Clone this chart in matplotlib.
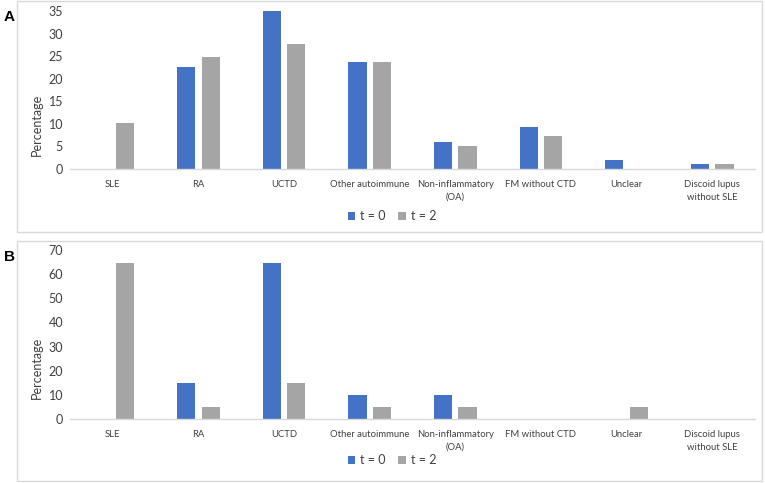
import matplotlib
matplotlib.use("Agg")
import matplotlib.pyplot as plt
from matplotlib.patches import Rectangle
import numpy as np

categories = ["SLE", "RA", "UCTD", "Other autoimmune", "Non-inflammatory\n(OA)",
              "FM without CTD", "Unclear", "Discoid lupus\nwithout SLE"]
a_t0 = [0, 22.6, 35.0, 23.6, 6.0, 9.2, 1.9, 1.0]
a_t2 = [10.1, 24.7, 27.8, 23.6, 5.1, 7.2, 0, 1.0]
b_t0 = [0, 15, 64.5, 10, 10, 0, 0, 0]
b_t2 = [64.5, 5, 15, 5, 5, 0, 5, 0]
series_labels = ["t = 0", "t = 2"]
a_yticks = [0, 5, 10, 15, 20, 25, 30, 35]
b_yticks = [0, 10, 20, 30, 40, 50, 60, 70]

BLUE = "#4472C4"
GRAY = "#A5A5A5"
FONT = "Lato"
W, H = 765, 483

fig = plt.figure(figsize=(W / 100, H / 100), dpi=100)

def fx(px):
    return px / W

def fy(py):
    return 1 - py / H

def panel(letter, frame_top, frame_bot, ax_top, ax_bot, t0, t2, yticks, legend_y, ylab_pos):
    fig.patches.append(Rectangle((fx(17), fy(frame_bot)), fx(762) - fx(17),
                                 fy(frame_top) - fy(frame_bot), transform=fig.transFigure,
                                 fill=False, edgecolor="#D9D9D9", linewidth=1.0))
    fig.text(fx(4), fy(frame_top + 16), letter, fontsize=11, fontweight="bold",
             family="Liberation Sans", va="center", ha="left")
    ax = fig.add_axes([fx(70), fy(ax_bot), fx(755) - fx(70), fy(ax_top) - fy(ax_bot)])
    x = np.arange(len(categories))
    w = 0.214
    gap = 0.072
    ax.bar(x - gap / 2 - w / 2, t0, width=w, color=BLUE, label=series_labels[0])
    ax.bar(x + gap / 2 + w / 2, t2, width=w, color=GRAY, label=series_labels[1])
    ax.set_xlim(-0.5, len(categories) - 0.5)
    ax.set_ylim(yticks[0], yticks[-1])
    ax.set_yticks(yticks)
    ax.set_yticklabels([str(v) for v in yticks], fontsize=9, family=FONT, color="#404040")
    ax.set_xticks(x)
    ax.set_xticklabels(categories, fontsize=6.8, family=FONT, color="#404040", linespacing=1.5)
    ax.tick_params(axis="both", length=0)
    ax.tick_params(axis="x", pad=8)
    ax.tick_params(axis="y", pad=5)
    for s in ["top", "right", "left"]:
        ax.spines[s].set_visible(False)
    ax.spines["bottom"].set_color("#D9D9D9")
    ax.spines["bottom"].set_linewidth(1.0)
    ax.set_ylabel("Percentage", fontsize=9, family=FONT, color="#404040")
    ax.yaxis.set_label_coords(-0.040, ylab_pos)
    ax.set_facecolor("none")
    leg = fig.legend(handles=ax.containers, labels=series_labels, loc="center",
                     bbox_to_anchor=(fx(392), fy(legend_y)), ncol=2, frameon=False,
                     prop={"family": FONT, "size": 9}, handlelength=0.6, handleheight=0.6,
                     handletextpad=0.4, columnspacing=1.0)
    for t in leg.get_texts():
        t.set_color("#404040")
    return ax

panel("A", 1, 232, 11, 169, a_t0, a_t2, a_yticks, 216, 0.28)
panel("B", 241, 481, 250, 419, b_t0, b_t2, b_yticks, 460, 0.30)

fig.savefig("out.png", dpi=100, facecolor="white")
